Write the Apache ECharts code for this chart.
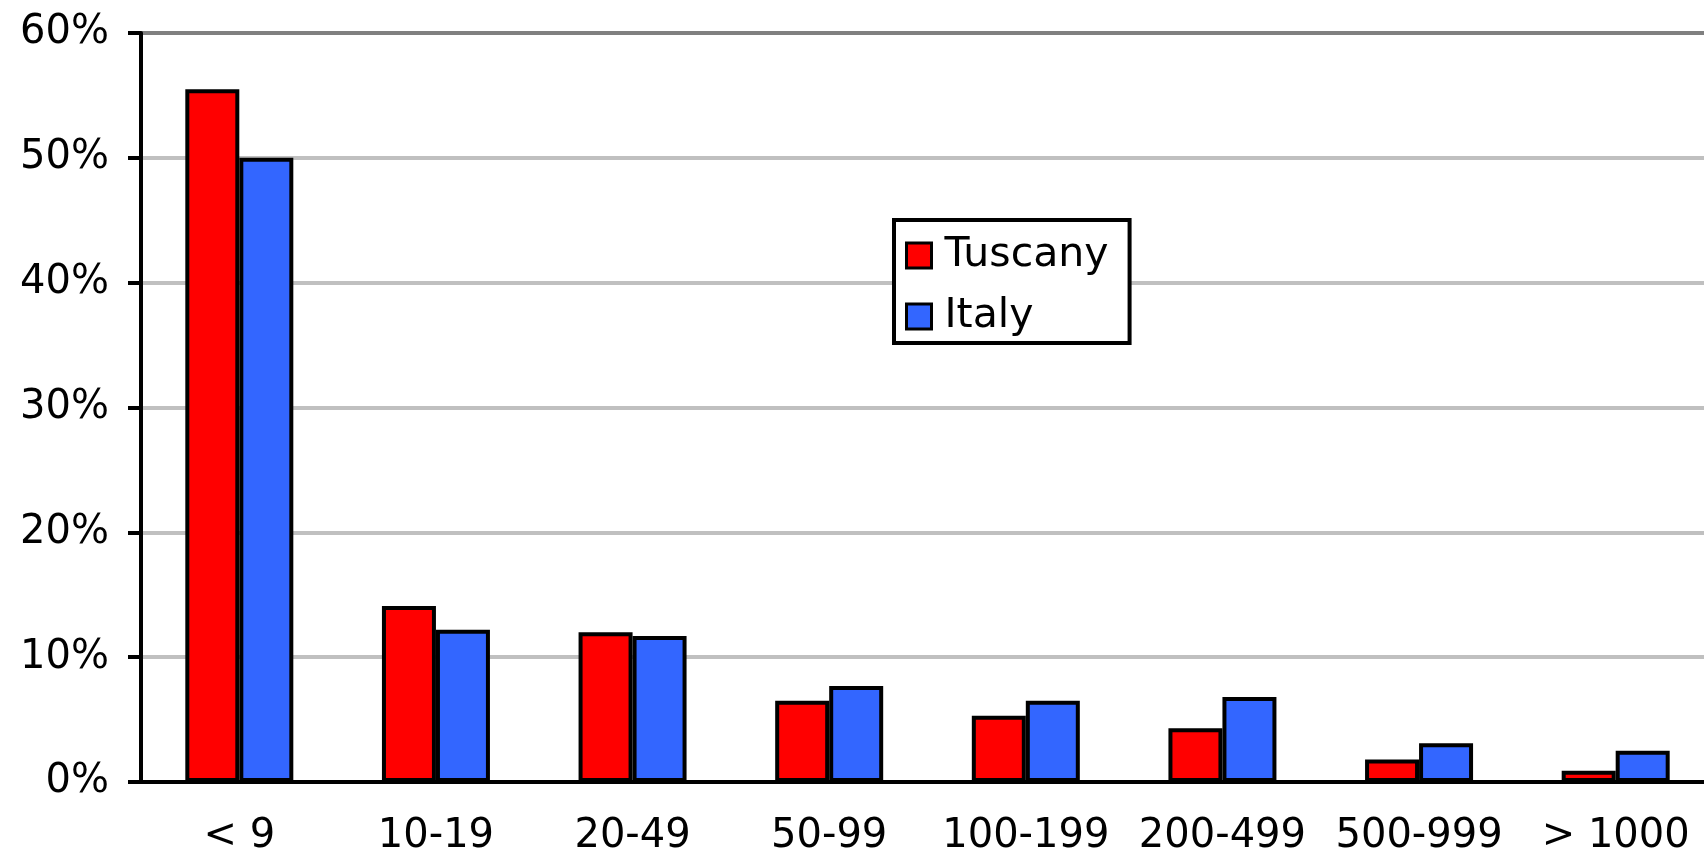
<!DOCTYPE html>
<html>
<head>
<meta charset="utf-8">
<script src="https://cdn.jsdelivr.net/npm/echarts@6/dist/echarts.min.js"></script>
<style>
  html, body { margin: 0; padding: 0; background: #fff; }
  #chart { width: 1704px; height: 856px; }
</style>
</head>
<body>
<div id="chart"></div>
<script>
// size classes
const categories = ['< 9', '10-19', '20-49', '50-99', '100-199', '200-499', '500-999', '> 1000'];
const tuscany = [55.5, 14.1, 12.0, 6.5, 5.3, 4.3, 1.8, 0.9];
const italy = [50.0, 12.2, 11.7, 7.7, 6.5, 6.8, 3.1, 2.5];
const yTicks = [0, 10, 20, 30, 40, 50, 60];

const font = 'DejaVu Sans';
const chart = echarts.init(document.getElementById('chart'));

const option = {
  animation: false,
  backgroundColor: '#fff',
  grid: {
    left: 141,
    right: -10,
    top: 33,
    bottom: 74,
    outerBoundsMode: 'none'
  },
  legend: {
    orient: 'vertical',
    left: 894,
    top: 220,
    padding: [15, 21, 6, 11],
    itemGap: 20,
    itemWidth: 25,
    itemHeight: 25,
    icon: 'rect',
    borderColor: '#000',
    borderWidth: 4,
    backgroundColor: '#fff',
    itemStyle: { borderColor: '#000', borderWidth: 3 },
    textStyle: { fontFamily: font, fontSize: 41, color: '#000', padding: [0, 0, 0, 8] },
    data: ['Tuscany', 'Italy']
  },
  xAxis: {
    type: 'category',
    data: categories,
    boundaryGap: true,
    axisLine: { lineStyle: { color: '#000', width: 4 } },
    axisTick: { length: 14, lineStyle: { color: '#000', width: 3 } },
    axisLabel: { fontFamily: font, fontSize: 40, color: '#000', margin: 35, interval: 0 }
  },
  yAxis: {
    type: 'value',
    min: yTicks[0],
    max: yTicks[yTicks.length - 1],
    interval: 10,
    axisLine: { show: true, lineStyle: { color: '#000', width: 4 } },
    axisTick: { show: true, length: 13, lineStyle: { color: '#000', width: 4 } },
    axisLabel: { fontFamily: font, fontSize: 40, color: '#000', margin: 32, formatter: '{value}%' },
    splitLine: {
      lineStyle: {
        width: 4,
        // top line is darker like the plot border
        color: ['#c0c0c0', '#c0c0c0', '#c0c0c0', '#c0c0c0', '#c0c0c0', '#c0c0c0', '#808080']
      }
    }
  },
  series: [
    {
      name: 'Tuscany',
      type: 'bar',
      data: tuscany,
      barWidth: 54,
      barGap: 0,
      itemStyle: { color: '#ff0000', borderColor: '#000', borderWidth: 4 }
    },
    {
      name: 'Italy',
      type: 'bar',
      data: italy,
      barWidth: 54,
      barGap: 0,
      itemStyle: { color: '#3366ff', borderColor: '#000', borderWidth: 4 }
    }
  ]
};

chart.setOption(option);
</script>
</body>
</html>
